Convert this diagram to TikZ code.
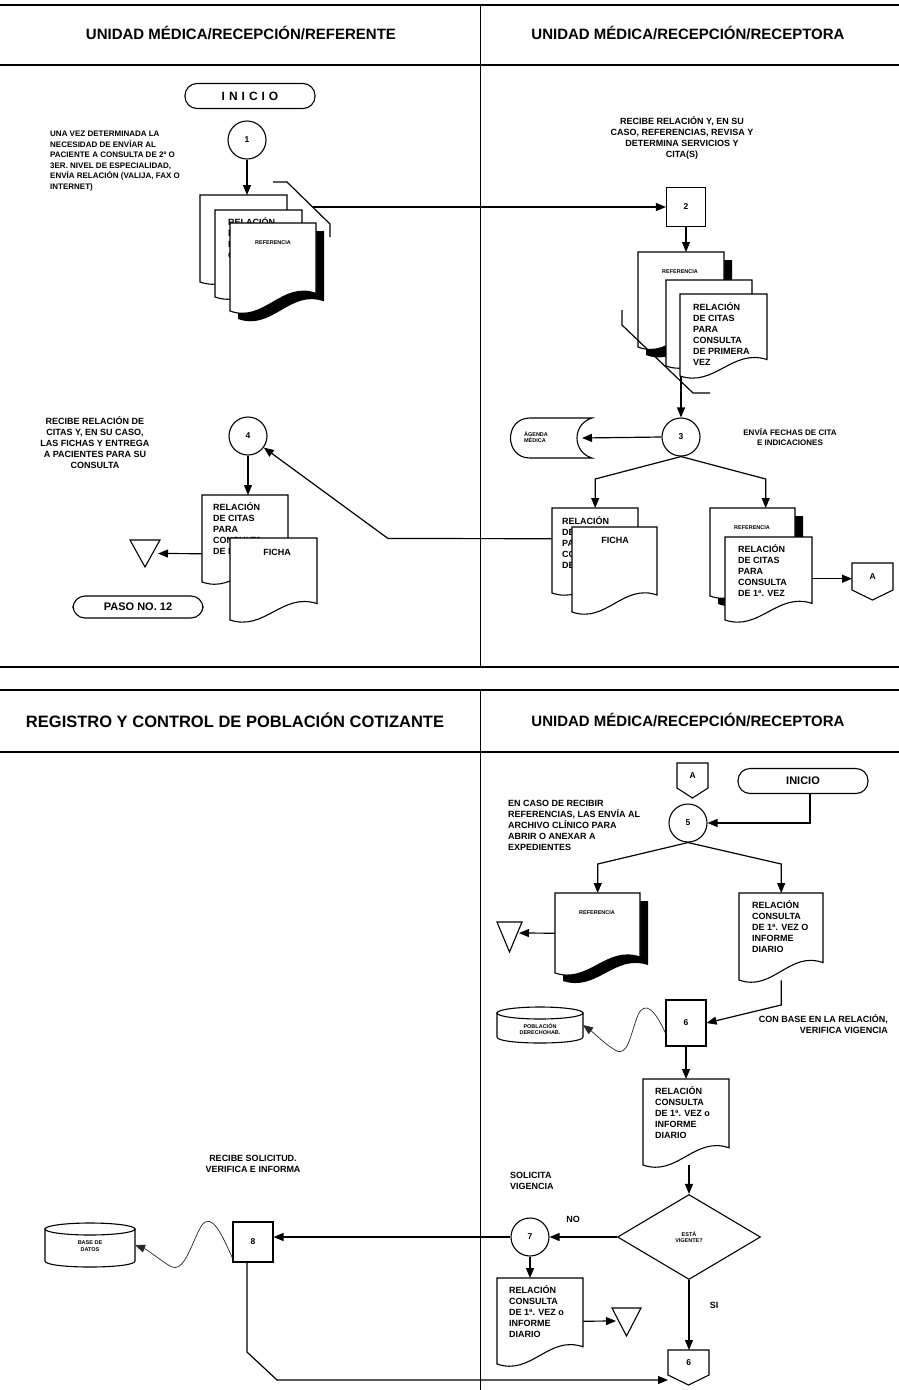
\documentclass[tikz,border=0pt]{standalone}
\usepackage{fontspec}
\setmainfont{Liberation Sans}
\usetikzlibrary{arrows.meta,shapes.geometric}

% document symbol: top-left x, top-left y, width, height of the left side
\newcommand{\docpath}[4]{({#1},{#2}) -- ({#1+#3},{#2}) -- ({#1+#3},{#2+0.8*#4})
  .. controls ({#1+0.6*#3},{#2+0.66*#4}) and ({#1+0.4*#3},{#2+1.14*#4}) .. ({#1},{#2+#4}) -- cycle}
\newcommand{\docsym}[5]{%
  \path[symb] \docpath{#2}{#3}{#4}{#5};
  \node[anchor=north west, inner sep=0pt, minimum width=#4pt, minimum height=#5pt] (#1) at (#2,#3) {};}
\newcommand{\docsymshadow}[5]{%
  \fill[black] \docpath{#2+8}{#3+8}{#4}{#5};
  \docsym{#1}{#2}{#3}{#4}{#5}}
% stored data: name, x0, y0, x1, y1
\newcommand{\storedsym}[5]{%
  \path[symb] ({#2+22},{#3}) -- ({#4},{#3}) .. controls ({#4-20},{#3+6}) and ({#4-20},{#5-6}) .. ({#4},{#5})
    -- ({#2+22},{#5}) .. controls ({#2-4},{#5}) and ({#2-4},{#3}) .. ({#2+22},{#3}) -- cycle;
  \coordinate (#1) at ({(#2+#4)/2},{(#3+#5)/2});}
% database cylinder: name, x0, y0, x1, y1
\newcommand{\cylsym}[5]{%
  \path[symb] ({#2},{#3+6}) -- ({#2},{#5-6}) .. controls ({#2},{#5+2}) and ({#4},{#5+2}) .. ({#4},{#5-6}) -- ({#4},{#3+6}) -- cycle;
  \draw[symb] ({(#2+#4)/2},{#3+6}) ellipse [x radius={(#4-#2)/2}, y radius=6];
  \coordinate (#1) at ({#4},{(#3+#5)/2});}
% off-page connector: name, x0, y0, width, side height, label
\newcommand{\offpage}[6]{%
  \path[symb] ({#2},{#3}) -- ({#2+#4},{#3}) -- ({#2+#4},{#3+#5}) -- ({#2+#4/2},{#3+#5+10}) -- ({#2},{#3+#5}) -- cycle;
  \node[anchor=north west, inner sep=0pt, minimum width=#4pt, minimum height=#5pt, font=\bfseries\fontsize{8.5}{10}\selectfont] (#1) at (#2,#3) {#6};}
% merge / file triangle: x0, y0, width, height
\newcommand{\trisym}[4]{%
  \path[symb] ({#1},{#2}) -- ({#1+#3},{#2}) -- ({#1+#3/2},{#2+#4}) -- cycle;}

\begin{document}
\begin{tikzpicture}[x=1pt,y=-1pt,
  panelline/.style={line width=1.7pt},
  laneline/.style={line width=1pt},
  symb/.style={draw, line width=1.1pt, fill=white},
  flowline/.style={line width=1.2pt},
  flow/.style={line width=1.2pt, -{Triangle[length=10pt,width=8pt]}},
  wavy/.style={line width=0.7pt, black!85, -{Triangle[length=10pt,width=8pt]}},
  stepcircle/.style={circle, draw, line width=1.1pt, minimum size=38pt, inner sep=0pt, fill=white, font=\bfseries\fontsize{8.5}{10}\selectfont},
  stepbox/.style={rectangle, draw, line width=1.1pt, minimum width=39pt, minimum height=39pt, inner sep=0pt, fill=white, font=\bfseries\fontsize{8.5}{10}\selectfont},
  terminal/.style={rectangle, draw, rounded corners=12pt, line width=1.1pt, minimum width=130pt, minimum height=25pt, inner sep=0pt, font=\bfseries\fontsize{11}{13}\selectfont},
  decision/.style={diamond, draw, line width=1.1pt, minimum width=143pt, minimum height=85pt, inner sep=0pt, aspect=1.68, align=center, font=\bfseries\fontsize{5.5}{6.5}\selectfont},
  header/.style={font=\bfseries\fontsize{15}{17}\selectfont, inner sep=0pt},
  note/.style={font=\bfseries\fontsize{9}{11}\selectfont, inner sep=0pt, align=left},
  smallnote/.style={font=\bfseries\fontsize{8}{10.5}\selectfont, inner sep=0pt, align=left},
  doctext/.style={font=\bfseries\fontsize{9}{11}\selectfont, inner sep=0pt, align=left},
  smalltxt/.style={font=\bfseries\fontsize{5.5}{6.5}\selectfont, inner sep=0pt, align=left},
]
\useasboundingbox (0,0) rectangle (899,1390);
\fill[white] (0,0) rectangle (899,1390);

% ---------------- lane frames ----------------
\draw[panelline] (0,5) -- (899,5);
\draw[panelline] (0,65) -- (899,65);
\draw[panelline] (0,667) -- (899,667);
\draw[panelline] (0,690) -- (899,690);
\draw[panelline] (0,752) -- (899,752);
\draw[laneline] (480,5) -- (480,667);
\draw[laneline] (480,690) -- (480,1390);

\node[header] (h1) at (241,33) {UNIDAD MÉDICA/RECEPCIÓN/REFERENTE};
\node[header] (h2) at (688,33) {UNIDAD MÉDICA/RECEPCIÓN/RECEPTORA};
\node[header, font=\bfseries\fontsize{16.5}{18}\selectfont] (h3) at (235,720) {REGISTRO Y CONTROL DE POBLACIÓN COTIZANTE};
\node[header] (h4) at (688,720) {UNIDAD MÉDICA/RECEPCIÓN/RECEPTORA};

% ---------------- upper lanes ----------------
\node[terminal, font=\bfseries\fontsize{12}{14}\selectfont] (ini1) at (250,96)
  {I\hspace{4pt}N\hspace{4pt}I\hspace{4pt}C\hspace{4pt}I\hspace{4pt}O};
\node[stepcircle] (c1) at (247,140) {1};
\node[smallnote, anchor=north west] (t1) at (50,131) {UNA VEZ DETERMINADA LA\\NECESIDAD DE ENVÍAR AL\\PACIENTE A CONSULTA DE 2º O\\3ER. NIVEL DE ESPECIALIDAD,\\ENVÍA RELACIÓN (VALIJA, FAX O\\INTERNET)};

% documents sent in step 1
\docsym{d1a}{200}{195}{87}{87}
\docsym{d1b}{215}{210}{87}{87}
\node[doctext, anchor=north west] at (228,217) {RELACIÓN\\DE CITAS\\PARA\\CONSULTA};
\docsymshadow{d1c}{230}{223}{86}{88}
\node[smalltxt] at (273,243) {REFERENCIA};
\draw[flowline] (273,182) -- (287,182) -- (330,224) -- (330,237);
\coordinate (s1) at (313,207);
\draw[flow] (c1.south) -- (c1.south |- d1a.north);

% step 2
\node[stepbox] (b2) at (686,207) {2};
\node[note, align=center, anchor=north] (t2) at (682,116) {RECIBE RELACIÓN Y, EN SU\\CASO, REFERENCIAS, REVISA Y\\DETERMINA SERVICIOS Y\\CITA(S)};
\draw[flow] (s1) -- (b2.west);

\docsymshadow{d2a}{638}{252}{86}{95}
\node[smalltxt] at (680,272) {REFERENCIA};
\docsym{d2b}{666}{280}{86}{86}
\docsym{d2c}{680}{294}{87}{82}
\node[doctext, anchor=north west] at (693,302) {RELACIÓN\\DE CITAS\\PARA\\CONSULTA\\DE PRIMERA\\VEZ};
\draw[flowline] (622,310) -- (622,325) -- (693,393) -- (710,393);
\draw[flow] (b2.south) -- (b2.south |- d2a.north);

% step 3
\node[stepcircle] (c3) at (681,437) {3};
\draw[flow] (c3 |- d2c.south) -- (c3.north);
\storedsym{agenda}{508}{418}{592}{458}
\node[smalltxt] at (536,437) {ÁGENDA\\MÉDICA};
\draw[flow] (c3.west) -- ([xshift=-10pt]agenda -| 592,0);
\node[smallnote, align=center, anchor=north] (t3) at (790,428) {ENVÍA FECHAS DE CITA\\E INDICACIONES};

\docsym{d3a}{552}{508}{86}{85}
\node[doctext, anchor=north west] at (562,516) {RELACIÓN\\DE CITAS\\PARA\\CONSULTA\\DE 1ª. VEZ};
\docsym{d3b}{572}{527}{85}{85}
\node[doctext] at (615,540) {FICHA};

\docsymshadow{d3c}{710}{508}{85}{88}
\node[smalltxt] at (752,528) {REFERENCIA};
\docsym{d3d}{725}{537}{87}{83}
\node[doctext, anchor=north west] at (738,544) {RELACIÓN\\DE CITAS\\PARA\\CONSULTA\\DE 1ª. VEZ};
\coordinate (r3) at ([xshift=13pt]d3c.north);
\draw[flow] (c3.south) -- (d3a.north |- 0,479) -- (d3a.north);
\draw[flow] (c3.south) -- (r3 |- 0,479) -- (r3);

\offpage{offA}{852}{563}{41}{27}{A}
\draw[flow] (d3d.east) -- (d3d.east -| offA.west);

% step 4
\node[stepcircle] (c4) at (248,436) {4};
\node[note, align=center, anchor=north] (t4) at (95,416) {RECIBE RELACIÓN DE\\CITAS Y, EN SU CASO,\\LAS FICHAS Y ENTREGA\\A PACIENTES PARA SU\\CONSULTA};
\draw[flow] ([yshift=12pt]d3a.west) -- (388,538.5) -- (c4);

\docsym{d4a}{202}{495}{86}{87}
\node[doctext, anchor=north west] at (213,502) {RELACIÓN\\DE CITAS\\PARA\\CONSULTA\\DE PRIMERA};
\docsym{d4b}{230}{538}{87}{82}
\node[doctext] at (277,552) {FICHA};
\draw[flow] (c4.south) -- (c4.south |- d4a.north);

\trisym{130}{540}{30}{27}
\coordinate (tri1) at (158,553.5);
\draw[flow] ([yshift=-15pt]d4a.west) -- (tri1);
\node[terminal, minimum height=22pt] (paso) at (138,607) {PASO NO. 12};

% ---------------- lower lanes ----------------
\offpage{offA2}{677}{763}{31}{25}{A}
\node[terminal] (ini2) at (803,781) {INICIO};
\node[stepcircle] (c5) at (688,823) {5};
\draw[flow] ([xshift=7pt]ini2.south) |- (c5.east);
\node[note, anchor=north west] (t5) at (508,800) {EN CASO DE RECIBIR\\REFERENCIAS, LAS ENVÍA AL\\ARCHIVO CLÍNICO PARA\\ABRIR O ANEXAR A\\EXPEDIENTES};

\docsymshadow{d5a}{555}{893}{85}{80}
\node[smalltxt] at (597,913) {REFERENCIA};
\docsym{d5b}{739}{893}{84}{87}
\node[doctext, anchor=north west] at (752,900) {RELACIÓN\\CONSULTA\\DE 1ª. VEZ O\\INFORME\\DIARIO};
\draw[flow] (c5.south) -- (d5a.north |- 0,864) -- (d5a.north);
\draw[flow] (c5.south) -- (d5b.north |- 0,864) -- (d5b.north);

\trisym{497}{922}{25}{30}
\coordinate (tri2) at (519,933);
\draw[flow] (d5a.west) -- (tri2);

% step 6
\node[stepbox, minimum width=40pt, minimum height=46pt] (b6) at (686,1023) {6};
\draw[flow] (d5b.south) -- (d5b.south |- 0,1005) -- (b6.east);
\node[note, align=right, anchor=north east] (t6) at (888,1014) {CON BASE EN LA RELACIÓN,\\VERIFICA VIGENCIA};
\cylsym{pob}{497}{1007}{583}{1043}
\node[smalltxt, align=center] at (540,1029) {POBLACIÓN\\DERECHOHAB.};
\draw[wavy] (b6.west) ++(0,10) .. controls (655,1010) and (645,1000) .. (638,1015)
  .. controls (630,1035) and (628,1058) .. (615,1050)
  .. controls (605,1044) and (594,1033) .. (pob);

\docsym{d6}{643}{1079}{86}{86}
\node[doctext, anchor=north west] at (655,1086) {RELACIÓN\\CONSULTA\\DE 1ª. VEZ o\\INFORME\\DIARIO};
\draw[flow] (b6.south) -- (b6.south |- d6.north);

\node[decision] (dec) at (689,1237) {ESTÁ\\VIGENTE?};
\draw[flow] (dec.north |- d6.south) -- (dec.north);

% step 7
\node[stepcircle] (c7) at (530,1237) {7};
\draw[flow] (dec.west) -- (c7.east);
\node[note] at (573,1219) {NO};
\node[note, anchor=north west] (t7) at (510,1172) {SOLICITA\\VIGENCIA};

\docsym{d7}{497}{1278}{86}{86}
\node[doctext, anchor=north west] at (509,1285) {RELACIÓN\\CONSULTA\\DE 1ª. VEZ o\\INFORME\\DIARIO};
\draw[flow] (c7.south) -- (c7.south |- d7.north);
\trisym{612}{1308}{29}{28}
\coordinate (tri3) at (616,1321);
\draw[flow] (d7.east) -- (tri3);

\offpage{off6}{668}{1350}{41}{25}{6}
\draw[flow] (dec.south) -- (dec.south |- off6.north);
\node[note] at (714,1305) {SI};

% step 8
\node[stepbox, minimum width=40pt, minimum height=40pt] (b8) at (253,1242) {8};
\draw[flow] (c7.west) -- (c7.west -| b8.east);
\node[note, align=center, anchor=north] (t8) at (253,1155) {RECIBE SOLICITUD.\\VERIFICA E INFORMA};
\cylsym{base}{45}{1223}{135}{1267}
\node[smalltxt, align=center] at (90,1246) {BASE DE\\DATOS};
\draw[wavy] (b8.west) ++(0,16) .. controls (222,1235) and (212,1212) .. (202,1225)
  .. controls (192,1240) and (185,1275) .. (170,1266)
  .. controls (160,1260) and (148,1250) .. (base);
\coordinate (j8) at (247,1352);
\coordinate (k8) at (277,1380);
\draw[flow] (b8.south -| j8) -- (j8) -- (k8) -- (k8 -| off6.west);
\end{tikzpicture}
\end{document}
